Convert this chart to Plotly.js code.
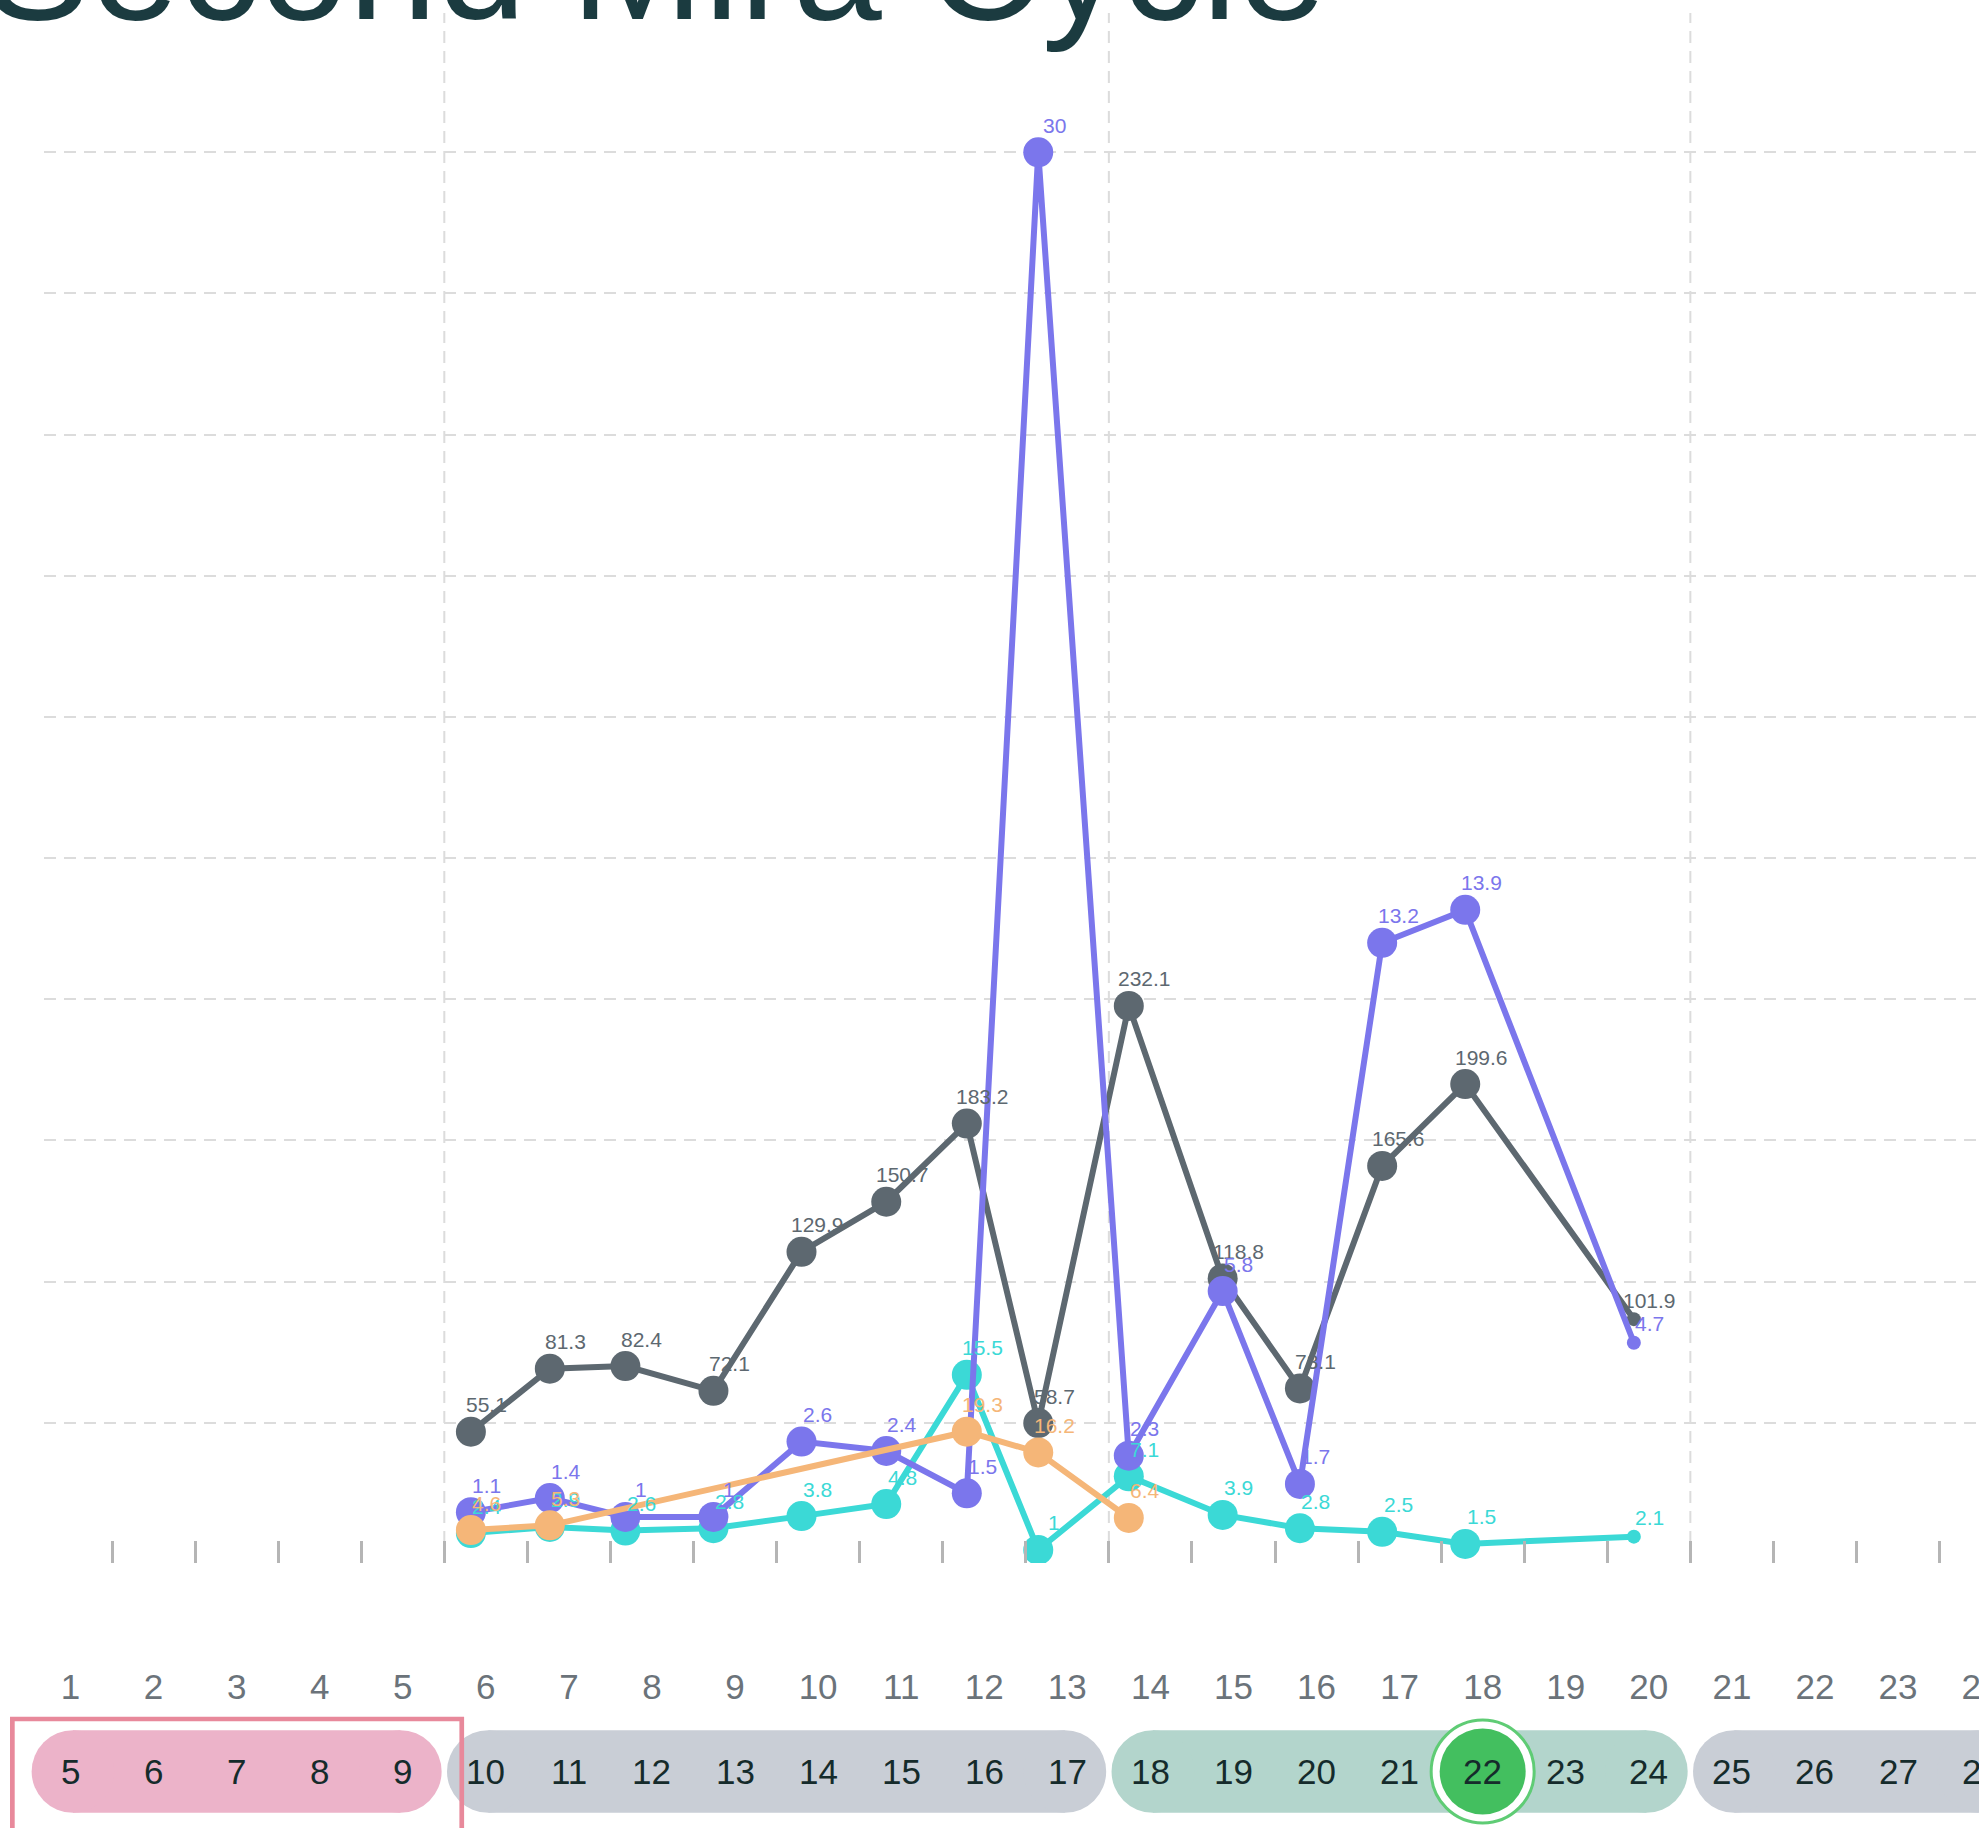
<!DOCTYPE html>
<html>
<head>
<meta charset="utf-8">
<script src="https://cdn.plot.ly/plotly-3.0.1.min.js"></script>
<style>
  html, body { margin: 0; padding: 0; overflow: hidden; background: #ffffff; }
</style>
</head>
<body>
<div id="chart"></div>
<script>
// ---------------- data ----------------
// reading times, in calendar-day units (day 5 = first day of the cycle)
const readingDay = [9.82, 10.77, 11.68, 12.74, 13.80, 14.82, 15.79, 16.65, 17.74, 18.87, 19.80, 20.79, 21.79, 23.82];
const e3gValues  = [55.1, 81.3, 82.4, 72.1, 129.9, 150.7, 183.2, 58.7, 232.1, 118.8, 73.1, 165.6, 199.6, 101.9];
const fshValues  = [2.4, 2.9, 2.6, 2.8, 3.8, 4.8, 15.5, 1, 7.1, 3.9, 2.8, 2.5, 1.5, 2.1];
const lhValues   = [1.1, 1.4, 1, 1, 2.6, 2.4, 1.5, 30, 2.3, 5.8, 1.7, 13.2, 13.9, 4.7];
const pdgDay     = [9.82, 10.77, 15.79, 16.65, 17.74];
const pdgValues  = [4.6, 5.3, 19.3, 16.2, 6.4];

// calendar row and cycle-day row
const calendarDays   = [5, 6, 7, 8, 9, 10, 11, 12, 13, 14, 15, 16, 17, 18, 19, 20, 21, 22, 23, 24, 25, 26, 27, 28];
const cycleDayLabels = ['1', '2', '3', '4', '5', '6', '7', '8', '9', '10', '11', '12', '13', '14', '15', '16', '17', '18', '19', '20', '21', '22', '23', '24'];

// phases of the cycle (calendar days)
const phaseStart = [5, 10, 18, 25];
const phaseEnd   = [9, 17, 24, 28];
const highlightedDay = 22;

// ---------------- styles ----------------
const colE3g = '#5d6870';
const colFsh = '#3bd9d6';
const colLh  = '#7b76ec';
const colPdg = '#f5b678';
const phaseColors = ['#ecb3c9', '#c9ced6', '#b3d5cc', '#c9ced6'];
const gridColor = '#dcdcdc';
const FONT = 'Liberation Sans, Arial, sans-serif';

const W = 2100, H = 1828;
const bandFrac = 265 / 1815;      // bottom band (calendar) share of the plot height
const pillCY = 56.5, pillR = 41.35;

function markerSizes(xs, lastSmall) {
  return xs.map((_, i) => (lastSmall && i === xs.length - 1) ? 14 : 30);
}

function seriesTrace(xs, ys, yaxis, color, lastSmall) {
  return {
    type: 'scatter', mode: 'lines+markers',
    x: xs, y: ys, xaxis: 'x', yaxis: yaxis,
    line: { color: color, width: 6 },
    marker: { color: color, size: markerSizes(xs, lastSmall), opacity: 1, line: { width: 0 } },
    hoverinfo: 'skip'
  };
}

const series = [
  { xs: readingDay, ys: e3gValues, yaxis: 'y',  color: colE3g, lastSmall: true },
  { xs: readingDay, ys: fshValues, yaxis: 'y2', color: colFsh, lastSmall: true },
  { xs: readingDay, ys: lhValues,  yaxis: 'y3', color: colLh,  lastSmall: true },
  { xs: pdgDay,     ys: pdgValues, yaxis: 'y4', color: colPdg, lastSmall: false }
];

const traces = series.map(s => seriesTrace(s.xs, s.ys, s.yaxis, s.color, s.lastSmall));

// highlighted day circle in the calendar band
traces.push({
  type: 'scatter', mode: 'markers',
  x: [highlightedDay, highlightedDay], y: [pillCY, pillCY],
  xaxis: 'x2', yaxis: 'y5',
  marker: { size: [103, 86], opacity: 1, color: ['#ffffff', '#43bf5f'], line: { width: [3, 0], color: '#5fcc75' } },
  hoverinfo: 'skip', cliponaxis: false
});

// ---------------- annotations ----------------
const annotations = [];
series.forEach(s => {
  const sizes = markerSizes(s.xs, s.lastSmall);
  s.xs.forEach((x, i) => {
    annotations.push({
      x: x, y: s.ys[i], xref: 'x', yref: s.yaxis,
      text: String(s.ys[i]), showarrow: false,
      xanchor: 'center', yanchor: 'bottom',
      xshift: 16, yshift: sizes[i] / 2 - 1.5,
      font: { family: FONT, size: 21, color: s.color }
    });
  });
});
calendarDays.forEach(d => {
  annotations.push({
    x: d, y: pillCY, xref: 'x2', yref: 'y5',
    text: String(d), showarrow: false,
    xanchor: 'center', yanchor: 'middle',
    font: { family: FONT, size: 35, color: '#152b2b' }
  });
});

// ---------------- shapes ----------------
const shapes = [];
phaseStart.slice(1).forEach(s => {
  shapes.push({
    type: 'line', xref: 'x', yref: 'y domain',
    x0: s - 0.5, x1: s - 0.5, y0: 0, y1: 1,
    line: { color: gridColor, width: 2, dash: '12px,8px' }, layer: 'below'
  });
});
phaseStart.forEach((s, k) => {
  const a = s + 0.03, b = phaseEnd[k] - 0.03;
  const c = phaseColors[k];
  shapes.push({
    type: 'rect', xref: 'x2', yref: 'y5',
    x0: a, x1: b, y0: pillCY - pillR, y1: pillCY + pillR,
    fillcolor: c, line: { width: 0 }, layer: 'below'
  });
  [a, b].forEach(cx => {
    shapes.push({
      type: 'circle', xref: 'x2', yref: 'y5',
      xsizemode: 'pixel', xanchor: cx, x0: -pillR, x1: pillR,
      y0: pillCY - pillR, y1: pillCY + pillR,
      fillcolor: c, line: { width: 0 }, layer: 'below'
    });
  });
});
// outline around the first phase
shapes.push({
  type: 'rect', xref: 'x2', yref: 'y5',
  x0: phaseStart[0] - 0.70, x1: phaseEnd[0] + 0.71, y0: -20, y1: 109,
  fillcolor: 'rgba(0,0,0,0)', line: { color: '#e8899b', width: 4.7 }, layer: 'above'
});

// ---------------- layout ----------------
const layout = {
  width: W, height: H,
  margin: { l: 0, r: 40, t: 13, b: 0, pad: 0 },
  paper_bgcolor: '#ffffff', plot_bgcolor: '#ffffff',
  showlegend: false,
  title: {
    text: 'Second Mira Cycle',
    font: { family: FONT, size: 160, color: '#1b3b40' },
    xref: 'container', x: 655 / W, xanchor: 'center',
    yref: 'container', y: 1 - 19.3 / H, yanchor: 'bottom'
  },
  xaxis: {
    domain: [44 / 2060, 1], range: [4.681, 28.95], anchor: 'y',
    tickmode: 'linear', tick0: 4.5, dtick: 1,
    ticks: 'inside', ticklen: 22, tickwidth: 3, tickcolor: '#b5b5b5',
    showticklabels: false, showgrid: false, zeroline: false, showline: false, fixedrange: true
  },
  yaxis:  { domain: [bandFrac, 1], range: [0.54, 644.8], visible: false, fixedrange: true },
  yaxis2: { overlaying: 'y', range: [-0.083, 128.3], visible: false, fixedrange: true },
  yaxis3: {
    overlaying: 'y', range: [0.02, 32.96],
    tickmode: 'linear', tick0: 0, dtick: 3,
    showgrid: true, gridcolor: gridColor, gridwidth: 2, griddash: '12px,8px',
    showticklabels: false, ticks: '', zeroline: false, showline: false, fixedrange: true
  },
  yaxis4: { overlaying: 'y', range: [-0.33, 231.4], visible: false, fixedrange: true },
  xaxis2: {
    domain: [0, 1], range: [4.1513, 28.95], anchor: 'free', position: 0.0909, side: 'bottom',
    tickmode: 'array', tickvals: calendarDays, ticktext: cycleDayLabels,
    ticks: '', showgrid: false, zeroline: false, showline: false,
    tickfont: { family: FONT, size: 35, color: '#6b737a' }, fixedrange: true
  },
  yaxis5: { domain: [0, bandFrac], range: [0, 265], anchor: 'x2', visible: false, fixedrange: true },
  shapes: shapes,
  annotations: annotations
};

Plotly.newPlot('chart', traces, layout, { displayModeBar: false, staticPlot: true });
</script>
</body>
</html>
